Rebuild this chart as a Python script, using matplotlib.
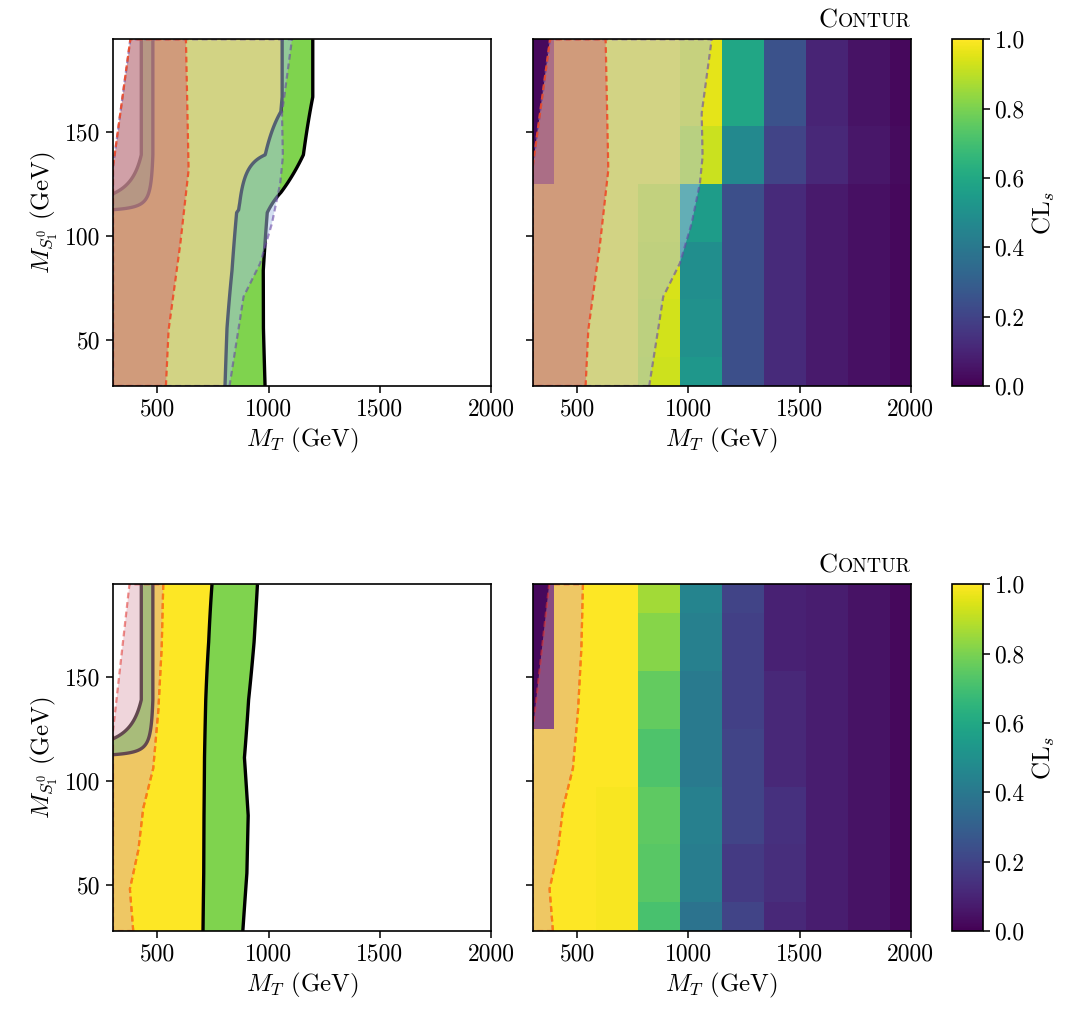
import numpy as np
import matplotlib
matplotlib.use('Agg')
import matplotlib.pyplot as plt
from matplotlib.offsetbox import TextArea, HPacker, AnchoredOffsetbox

plt.rcParams['font.family'] = ['cmr10']
plt.rcParams['mathtext.fontset'] = 'cm'
plt.rcParams['axes.formatter.use_mathtext'] = True

# ---------------- data ----------------
m_T = [300, 488.9, 677.8, 866.7, 1055.6, 1244.4, 1433.3, 1622.2, 1811.1, 2000]
m_S = [27.8, 55.6, 83.3, 111.1, 138.9, 166.7, 194.4]

# combined CLs, rows = m_S (bottom -> top), cols = m_T
cls_top = [
    [1.00, 1.00, 1.00, 0.925, 0.53, 0.24, 0.12, 0.07, 0.04, 0.02],
    [1.00, 1.00, 1.00, 0.930, 0.50, 0.24, 0.12, 0.07, 0.04, 0.02],
    [1.00, 1.00, 1.00, 0.940, 0.49, 0.24, 0.12, 0.07, 0.04, 0.02],
    [1.00, 1.00, 1.00, 0.947, 0.55, 0.24, 0.12, 0.07, 0.04, 0.02],
    [0.02, 1.00, 1.00, 1.000, 0.92, 0.47, 0.20, 0.11, 0.06, 0.03],
    [0.02, 1.00, 1.00, 1.000, 0.96, 0.59, 0.25, 0.10, 0.05, 0.02],
    [0.02, 1.00, 1.00, 1.000, 0.96, 0.59, 0.25, 0.10, 0.05, 0.02],
]
cls_bottom = [
    [1.00, 1.00, 0.99, 0.71, 0.38, 0.20, 0.11, 0.08, 0.05, 0.02],
    [1.00, 1.00, 0.99, 0.74, 0.42, 0.17, 0.13, 0.08, 0.05, 0.02],
    [1.00, 1.00, 0.99, 0.75, 0.43, 0.20, 0.14, 0.08, 0.05, 0.02],
    [1.00, 1.00, 1.00, 0.72, 0.41, 0.20, 0.11, 0.08, 0.05, 0.02],
    [0.02, 1.00, 1.00, 0.76, 0.41, 0.19, 0.11, 0.08, 0.05, 0.02],
    [0.02, 1.00, 1.00, 0.82, 0.43, 0.19, 0.09, 0.08, 0.05, 0.02],
    [0.02, 1.00, 1.00, 0.86, 0.45, 0.20, 0.09, 0.08, 0.05, 0.02],
]

# 95% CL boundaries of individual analysis pools (M_T at given M_S)
top_left_y = [27.8, 133.0, 194.4]
top_left_x = [300, 300, 378]
pool_red_y = [27.8, 54.7, 96.4, 131.6, 194.4]
pool_red_x = [538, 550, 603, 640, 628]
pool_blue_y = [27.8, 55.6, 70.7, 86.8, 106.0, 125.2, 138.0, 158.8, 194.4]
pool_blue_x = [824, 865, 887, 962, 1015, 1052, 1064, 1060, 1105]

bot_left_y = [27.8, 124.0, 194.4]
bot_left_x = [300, 300, 374]
pool_pink_y = [27.8, 48.0, 66.7, 86.8, 106.0, 134.0, 164.0, 194.4]
pool_pink_x = [391, 376, 414, 436, 481, 504, 519, 526]

x_ticks = [500, 1000, 1500, 2000]
y_ticks = [50, 100, 150]
cb_ticks = [0.0, 0.2, 0.4, 0.6, 0.8, 1.0]
levels = [0.68, 0.95, 1.5]

# ---------------- styles ----------------
def rgb(r, g, b, a=1.0):
    return (r / 255, g / 255, b / 255, a)

GREEN = rgb(127, 211, 78)
YELLOW = rgb(253, 231, 37)
DASH = (0, (2.6, 1.7))
TICK_FS = 17
LABEL_FS = 18

W, H = 1070, 1010
fig = plt.figure(figsize=(W / 100, H / 100), dpi=100)

def fx(px):
    return px / W

def fy(py_top, py_bot):
    return 1 - py_bot / H, (py_bot - py_top) / H

rows = [(39.3, 386.0), (584.3, 931.0)]
ax_w = fx(378.0)


def fine_grid(Z):
    """Bilinear resampling of the CLs grid so contours are drawn smoothly."""
    xf = np.linspace(m_T[0], m_T[-1], 341)
    yf = np.linspace(m_S[0], m_S[-1], 241)
    Zx = np.array([np.interp(xf, m_T, row) for row in Z])
    Zf = np.array([np.interp(yf, m_S, Zx[:, j]) for j in range(len(xf))]).T
    Xf, Yf = np.meshgrid(xf, yf)
    return Xf, Yf, Zf


def polygon(ly, lx, ry, rx):
    xs = list(rx) + list(lx[::-1])
    ys = list(ry) + list(ly[::-1])
    return xs, ys


def overlays(ax, which):
    if which == 0:
        bx, by = polygon(top_left_y, top_left_x, pool_blue_y, pool_blue_x)
        rx, ry = polygon(top_left_y, top_left_x, pool_red_y, pool_red_x)
        ax.fill(bx, by, facecolor=rgb(168, 192, 228, 0.5), edgecolor='none', zorder=4)
        ax.fill(rx, ry, facecolor=rgb(207, 118, 118, 0.6), edgecolor='none', zorder=5)
        ax.plot(bx + [bx[0]], by + [by[0]], color=rgb(105, 70, 165, 0.6), ls=DASH, lw=1.6, zorder=6)
        ax.plot(rx + [rx[0]], ry + [ry[0]], color=rgb(238, 75, 40, 0.9), ls=DASH, lw=1.6, zorder=7)
    else:
        px, py = polygon(bot_left_y, bot_left_x, pool_pink_y, pool_pink_x)
        ax.fill(px, py, facecolor=rgb(220, 162, 177, 0.45), edgecolor='none', zorder=4)
        ax.plot(px + [px[0]], py + [py[0]], color=rgb(225, 50, 45, 0.55), ls=DASH, lw=1.6, zorder=6)
        ax.plot(pool_pink_x, pool_pink_y, color=rgb(255, 127, 14, 0.85), ls=DASH, lw=1.6, zorder=7)


def style_axes(ax, left_labels):
    ax.set_xlim(300, 2000)
    ax.set_ylim(m_S[0], m_S[-1])
    ax.set_xticks(x_ticks)
    ax.set_yticks(y_ticks)
    ax.set_xticklabels([str(t) for t in x_ticks])
    ax.tick_params(direction='out', length=5, width=1.1, labelsize=TICK_FS, pad=4)
    if left_labels:
        ax.set_yticklabels([str(t) for t in y_ticks])
        ax.set_ylabel(r'$M_{S_1^0}$ (GeV)', fontsize=LABEL_FS, labelpad=4)
    else:
        ax.tick_params(labelleft=False)
    ax.set_xlabel(r'$M_T$ (GeV)', fontsize=LABEL_FS, labelpad=4)
    for s in ax.spines.values():
        s.set_linewidth(1.2)
        s.set_zorder(10)


def contur_label(ax):
    box = HPacker(children=[TextArea('C', textprops=dict(fontsize=19, family='cmr10')),
                            TextArea('ONTUR', textprops=dict(fontsize=14, family='cmr10'))],
                  align='baseline', pad=0, sep=0.5)
    anch = AnchoredOffsetbox(loc='lower right', child=box, pad=0, borderpad=0,
                             frameon=False, bbox_to_anchor=(1.0, 1.02),
                             bbox_transform=ax.transAxes)
    ax.add_artist(anch)


X, Y = np.meshgrid(m_T, m_S)
for i, (cls, (pt, pb)) in enumerate(zip([cls_top, cls_bottom], rows)):
    Z = np.array(cls)
    b, h = fy(pt, pb)
    axl = fig.add_axes([fx(113.0), b, ax_w, h])
    axr = fig.add_axes([fx(532.7), b, ax_w, h])
    cax = fig.add_axes([fx(952.3), b, fx(30.4), h])

    # left: combined exclusion contours
    Xf, Yf, Zf = fine_grid(Z)
    axl.contourf(Xf, Yf, Zf, levels=levels, colors=[GREEN, YELLOW], zorder=1)
    axl.contour(Xf, Yf, Zf, levels=levels[:2], colors='black', linewidths=2.4, zorder=2)
    overlays(axl, i)
    style_axes(axl, True)

    # right: CLs heatmap
    mesh = axr.pcolormesh(X, Y, Z, cmap='viridis', vmin=0, vmax=1, shading='nearest', zorder=1)
    overlays(axr, i)
    style_axes(axr, False)
    contur_label(axr)

    cb = fig.colorbar(mesh, cax=cax)
    cb.set_ticks(cb_ticks)
    cb.set_ticklabels(['%.1f' % t for t in cb_ticks])
    cb.ax.tick_params(direction='out', length=5, width=1.1, labelsize=TICK_FS)
    cb.outline.set_linewidth(1.2)
    cb.set_label(r'CL$_s$', fontsize=LABEL_FS, labelpad=4)

fig.savefig('out.png', dpi=100)
